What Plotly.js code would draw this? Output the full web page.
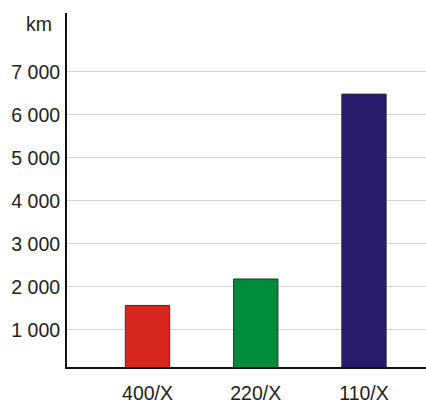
<!DOCTYPE html>
<html>
<head>
<meta charset="utf-8">
<script src="https://cdn.plot.ly/plotly-3.0.1.min.js"></script>
<style>html,body{margin:0;padding:0;background:#fff;}#chart{width:426px;height:403px;}</style>
</head>
<body>
<div id="chart"></div>
<script>
const categories = ["400/X", "220/X", "110/X"];
const lengthKm = [1570, 2185, 6480];
const barColors = ["#d9261e", "#008c3c", "#2a1a6e"];
const yTickValues = [1000, 2000, 3000, 4000, 5000, 6000, 7000];
const yTickLabels = ["1 000", "2 000", "3 000", "4 000", "5 000", "6 000", "7 000"];
const unitLabel = "km";

const font = {family: "Liberation Sans, Arial, sans-serif", size: 19.5, color: "#222"};

Plotly.newPlot("chart", [{
  type: "bar",
  x: categories,
  y: lengthKm,
  width: 0.41,
  marker: {color: barColors, line: {color: "#333", width: 1}},
  hoverinfo: "none"
}], {
  width: 426, height: 403,
  margin: {l: 67, r: 0, t: 13, b: 36},
  paper_bgcolor: "#fff", plot_bgcolor: "#fff",
  font: font,
  showlegend: false,
  xaxis: {
    type: "category",
    range: [-0.744, 2.573],
    showline: true, linecolor: "#111", linewidth: 2,
    showgrid: false, zeroline: false,
    ticks: "outside", ticklen: 8, tickcolor: "rgba(0,0,0,0)",
    tickfont: font
  },
  yaxis: {
    range: [140, 8364],
    tickvals: yTickValues, ticktext: yTickLabels,
    showline: true, linecolor: "#111", linewidth: 2,
    showgrid: true, gridcolor: "#d4d4d4", gridwidth: 1,
    zeroline: false,
    ticks: "outside", ticklen: 1, tickcolor: "rgba(0,0,0,0)",
    tickfont: font
  },
  annotations: [{
    text: unitLabel, xref: "paper", yref: "paper",
    x: -0.079, y: 0.97, xanchor: "center", yanchor: "middle",
    showarrow: false, font: font
  }]
}, {displayModeBar: false, staticPlot: true});
</script>
</body>
</html>
